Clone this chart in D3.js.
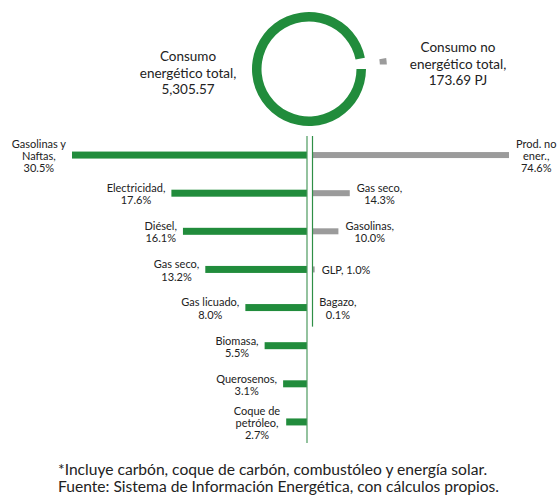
<!DOCTYPE html>
<html>
<head>
<meta charset="utf-8">
<script src="https://cdn.jsdelivr.net/npm/d3@7"></script>
<style>
  body { margin: 0; background: #fff; }
  svg text { font-family: Lato, "Noto Sans", sans-serif; fill: #222; }
</style>
</head>
<body>
<svg id="chart" width="557" height="498"></svg>
<script>
// totals (PJ)
const totals = [5305.57, 173.69]
const totalLabels = [
  ["Consumo", "energético total,", "5,305.57"],
  ["Consumo no", "energético total,", "173.69 PJ"]
]

// energy use (% share)
const energyNames = [["Gasolinas y", "Naftas,"], ["Electricidad,"], ["Diésel,"], ["Gas seco,"],
  ["Gas licuado,"], ["Biomasa,"], ["Querosenos,"], ["Coque de", "petróleo,"]]
const energyValues = [30.5, 17.6, 16.1, 13.2, 8.0, 5.5, 3.1, 2.7]

// non energy use (% share)
const nonEnergyNames = [["Prod. no", "ener.,"], ["Gas seco,"], ["Gasolinas,"], ["GLP,"], ["Bagazo,"]]
const nonEnergyValues = [74.6, 14.3, 10.0, 1.0, 0.1]
const sameLine = ["GLP,"]

const notes = [
  "*Incluye carbón, coque de carbón, combustóleo y energía solar.",
  "Fuente: Sistema de Información Energética, con cálculos propios."
]

const green = "#218c3c"
const gray = "#9b9b9b"
const fmt = d3.format(".1f")

const svg = d3.select("#chart")

// donut
const cx = 309, cy = 69
const pie = d3.pie().sort(null).startAngle(Math.PI / 2).endAngle(Math.PI / 2 + 2 * Math.PI)
const slices = pie(totals)
const ring = d3.arc().innerRadius(47.5).outerRadius(57)
const piece = d3.arc().innerRadius(49).outerRadius(56).padAngle(0.06)
const donut = svg.append("g").attr("transform", `translate(${cx},${cy})`)
donut.append("path").attr("d", ring(slices[0])).attr("fill", green)
const mid = (slices[1].startAngle + slices[1].endAngle) / 2
donut.append("path")
  .attr("d", piece(slices[1]))
  .attr("fill", gray)
  .attr("transform", `translate(${Math.sin(mid) * 22},${-Math.cos(mid) * 22})`)

const totalPos = [[188, 61], [458, 52]]
totalLabels.forEach((lines, i) => {
  const t = svg.append("text")
    .attr("text-anchor", "middle")
    .attr("font-size", 13.5)
  lines.forEach((l, j) => {
    t.append("tspan").attr("x", totalPos[i][0]).attr("y", totalPos[i][1] + j * 16.5).text(l)
  })
})

// bars
const y = d3.scaleBand().domain(d3.range(energyValues.length)).range([136, 441])
const xl = d3.scaleLinear().domain([0, 30.5]).range([307, 72])
const xr = d3.scaleLinear().domain([0, 74.6]).range([312, 509])
const lh = 12.3

svg.selectAll(".lbar")
  .data(energyValues)
  .join("rect")
  .attr("x", d => xl(d))
  .attr("y", (d, i) => y(i) + y.step() / 2 - 3.5)
  .attr("width", d => xl(0) - xl(d))
  .attr("height", 7)
  .attr("fill", green)

svg.selectAll(".rbar")
  .data(nonEnergyValues)
  .join("rect")
  .attr("x", xr(0))
  .attr("y", (d, i) => y(i) + y.step() / 2 - 3)
  .attr("width", d => xr(d) - xr(0))
  .attr("height", 6)
  .attr("fill", gray)

svg.append("line")
  .attr("x1", 307).attr("x2", 307)
  .attr("y1", y.range()[0]).attr("y2", y.range()[1] + 2)
  .attr("stroke", "#4c9a5e").attr("stroke-width", 1.2)
svg.append("line")
  .attr("x1", 312.5).attr("x2", 312.5)
  .attr("y1", y.range()[0]).attr("y2", y(nonEnergyValues.length - 1) + y.step())
  .attr("stroke", "#2f8f46").attr("stroke-width", 1.2)

function label(lines, edge, yc, side) {
  const t = svg.append("text").attr("font-size", 11).attr("text-anchor", "middle")
  const y0 = yc - (lines.length - 1) * lh / 2 + 5
  const spans = lines.map((l, j) => t.append("tspan").attr("y", y0 + j * lh).text(l))
  const w = d3.max(spans, s => s.node().getComputedTextLength())
  const xc = side < 0 ? edge - 6 - w / 2 : edge + 7 + w / 2
  spans.forEach(s => s.attr("x", xc))
}

energyValues.forEach((v, i) => {
  label([...energyNames[i], fmt(v) + "%"], xl(v), y(i) + y.step() / 2, -1)
})
nonEnergyValues.forEach((v, i) => {
  const names = nonEnergyNames[i]
  const lines = sameLine.includes(names[0]) ? [names[0] + " " + fmt(v) + "%"] : [...names, fmt(v) + "%"]
  label(lines, xr(v), y(i) + y.step() / 2, 1)
})

// notes
svg.selectAll(".note")
  .data(notes)
  .join("text")
  .attr("x", 58)
  .attr("y", (d, i) => 475 + i * 17)
  .attr("font-size", 15.6)
  .text(d => d)
</script>
</body>
</html>
